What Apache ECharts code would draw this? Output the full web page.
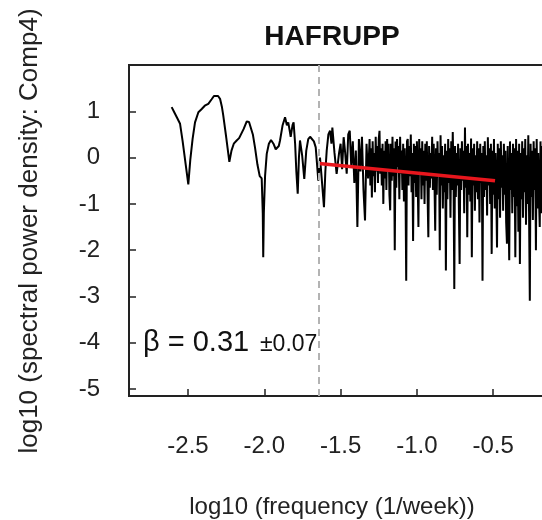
<!DOCTYPE html>
<html><head><meta charset="utf-8">
<script src="https://cdn.jsdelivr.net/npm/echarts@6/dist/echarts.min.js"></script>
<style>html,body{margin:0;padding:0;background:#fff}#c{width:542px;height:520px}</style>
</head><body><div id="c"></div>
<script>
const chartTitle = 'HAFRUPP';
const xAxisTitle = 'log10 (frequency (1/week))';
const yAxisTitle = 'log10 (spectral power density: Comp4)';
const xTicks = [-2.5, -2.0, -1.5, -1.0, -0.5];
const yTicks = [-5, -4, -3, -2, -1, 0, 1];
const betaText = 'β = 0.31';
const betaErr = '±0.07';

// log10 frequency (x) of the spectrum
const freqLog = [
-2.607,-2.590,-2.570,-2.552,-2.535,-2.515,-2.498,-2.485,-2.470,-2.454,
-2.432,-2.410,-2.390,-2.367,-2.345,-2.330,-2.317,-2.303,-2.290,-2.278,
-2.269,-2.250,-2.229,-2.215,-2.200,-2.181,-2.165,-2.155,-2.135,-2.115,
-2.100,-2.089,-2.075,-2.061,-2.045,-2.030,-2.017,-2.010,-2.007,-2.003,
-1.995,-1.984,-1.970,-1.956,-1.940,-1.925,-1.919,-1.905,-1.897,-1.880,
-1.864,-1.852,-1.843,-1.832,-1.827,-1.815,-1.808,-1.798,-1.790,-1.781,
-1.773,-1.766,-1.752,-1.738,-1.725,-1.712,-1.700,-1.689,-1.675,-1.663,
-1.646,-1.635,-1.625,-1.609,-1.600,-1.591,-1.580,-1.569,-1.560,-1.554,
-1.540,-1.526,-1.510,
-1.50,-1.49,-1.48,-1.47,-1.46,-1.45,-1.44,-1.43,-1.42,-1.41,
-1.40,-1.39,-1.38,-1.37,-1.36,-1.35,-1.34,-1.33,-1.32,-1.31,
-1.305,-1.300,-1.295,-1.290,-1.285,-1.280,-1.275,-1.270,-1.265,-1.260,
-1.255,-1.250,-1.245,-1.240,-1.235,-1.230,-1.225,-1.220,-1.215,-1.210,
-1.205,-1.200,-1.195,-1.190,-1.185,-1.180,-1.175,-1.170,-1.165,-1.160,
-1.155,-1.150,-1.145,-1.140,-1.135,-1.130,-1.125,-1.120,-1.115,-1.110,
-1.105,-1.100,-1.095,-1.090,-1.085,-1.080,-1.075,-1.070,-1.065,-1.060,
-1.055,-1.050,-1.045,-1.040,-1.035,-1.030,-1.025,-1.020,-1.015,-1.010,
-1.005,-1.000,-0.995,-0.990,-0.985,-0.980,-0.975,-0.970,-0.965,-0.960,
-0.955,-0.950,-0.945,-0.940,-0.935,-0.930,-0.925,-0.920,-0.915,-0.910,
-0.905,-0.900,
-0.895,-0.890,-0.885,-0.880,-0.875,-0.870,-0.865,-0.860,-0.855,-0.850,
-0.845,-0.840,-0.835,-0.830,-0.825,-0.820,-0.815,-0.810,-0.805,-0.800,
-0.795,-0.790,-0.785,-0.780,-0.775,-0.770,-0.765,-0.760,-0.755,-0.750,
-0.745,-0.740,-0.735,-0.730,-0.725,-0.720,-0.715,-0.710,-0.705,-0.700,
-0.695,-0.690,-0.685,-0.680,-0.675,-0.670,-0.665,-0.660,-0.655,-0.650,
-0.645,-0.640,-0.635,-0.630,-0.625,-0.620,-0.615,-0.610,-0.605,-0.600,
-0.595,-0.590,-0.585,-0.580,-0.575,-0.570,-0.565,-0.560,-0.555,-0.550,
-0.545,-0.540,-0.535,-0.530,-0.525,-0.520,-0.515,-0.510,-0.505,-0.500,
-0.495,-0.490,-0.485,-0.480,-0.475,-0.470,-0.465,-0.460,-0.455,-0.450,
-0.445,-0.440,-0.435,-0.430,-0.425,-0.420,-0.415,-0.410,-0.405,-0.400,
-0.395,-0.390,-0.385,-0.380,-0.375,-0.370,-0.365,-0.360,-0.355,-0.350,
-0.345,-0.340,-0.335,-0.330,-0.325,-0.320,-0.315,-0.310,-0.305,-0.300,
-0.295,-0.290,-0.285,-0.280,-0.275,-0.270,-0.265,-0.260,-0.255,-0.250,
-0.245,-0.240,-0.235,-0.230,-0.225,-0.220,-0.215,-0.210,-0.205,-0.200,
-0.195,-0.190,-0.185,-0.180,-0.175,-0.170,-0.165,-0.160,-0.155,-0.150
];

// log10 spectral power density (y)
const powerLog = [
1.09,0.98,0.85,0.73,0.35,-0.15,-0.58,-0.05,0.40,0.76,
0.98,1.05,1.12,1.16,1.26,1.33,1.35,1.33,1.27,1.10,
0.91,0.45,-0.09,0.15,0.30,0.37,0.42,0.45,0.62,0.78,
0.77,0.73,0.50,0.22,-0.15,-0.40,-0.45,-1.20,-2.15,-1.20,
-0.40,0.08,0.30,0.38,0.30,0.18,0.15,0.25,0.37,0.70,
0.87,0.70,0.76,0.55,0.45,0.70,0.76,0.30,-0.30,-0.78,
0.00,0.37,0.05,-0.46,0.15,0.40,0.45,0.47,0.35,0.22,
-0.50,0.00,-0.40,-1.07,-0.30,0.15,0.50,0.58,0.30,0.65,
0.10,-0.35,0.10,
0.30,-0.25,0.44,0.10,-0.35,0.50,0.58,-0.20,0.35,-0.55,
0.15,-1.50,0.40,-0.30,0.45,-0.70,-1.36,0.30,-0.45,0.40,
-0.60,0.20,-0.86,0.35,-0.40,0.10,-0.75,0.45,-0.30,0.25,
-0.55,0.40,0.58,-0.35,0.20,-0.60,0.30,-1.00,0.15,-0.45,
0.35,-0.70,0.40,-0.25,0.30,-0.80,-1.14,0.30,-0.50,0.45,
-0.40,0.20,-2.00,0.35,-0.65,0.40,-0.20,0.25,-0.90,0.45,
-0.35,0.15,-0.70,0.30,-0.95,0.20,-0.50,-2.66,0.35,0.40,
-0.60,0.25,-0.40,0.50,-0.75,0.10,-1.80,0.30,-0.55,0.25,
-0.85,0.35,-0.45,-1.50,0.40,-0.30,0.20,-0.90,0.35,-0.60,
0.15,-1.00,0.30,-0.50,0.35,-0.80,-1.72,0.25,-0.65,0.10,
-0.45,0.45,
-0.70,0.30,-0.50,-1.58,0.20,-0.80,0.35,-0.40,0.10,-2.00,
0.48,-0.60,0.25,-1.10,0.05,-0.75,0.30,-2.44,0.15,-0.90,
0.40,-0.55,0.20,-1.30,0.35,-0.70,0.55,-0.40,-2.84,0.25,
-0.85,0.10,-0.60,0.30,-1.05,-2.30,0.20,-0.70,0.35,-0.50,
0.15,-1.20,0.65,-0.65,0.25,-1.72,0.30,-0.80,0.10,-0.95,
0.41,-2.15,0.20,-0.60,0.30,-1.15,0.05,-0.75,0.35,-0.90,
0.20,-1.40,0.30,-0.55,0.10,-2.66,0.25,-0.85,0.35,-0.70,
0.05,-1.25,0.44,-0.60,0.20,-1.00,0.30,-2.08,0.15,-0.80,
0.40,-1.10,0.10,-0.70,-1.94,0.30,-0.90,0.20,-1.30,0.35,
-0.65,0.05,-1.15,0.30,-0.80,0.15,-1.40,-1.86,0.25,-0.95,
-2.22,0.35,-0.70,0.10,-1.20,0.30,-0.85,0.20,-2.15,0.40,
-1.05,0.15,-1.60,0.30,-2.30,0.10,-0.90,0.35,-1.30,0.20,
-0.75,0.40,-1.45,0.05,-1.00,0.48,-1.20,-3.09,0.30,-0.85,
0.15,-1.35,0.35,-0.70,0.20,-2.00,0.40,-1.10,0.10,-0.90,
-1.50,0.35,-1.20,0.25,-0.80,0.30,-1.10,0.20,-0.70,0.35
];

// fitted power-law line and the fit cut-off frequency
const fitX = [-1.642, -0.488];
const fitY = [-0.13, -0.50];
const cutoffX = -1.642;

const FF = '"Liberation Sans", Arial, sans-serif';
const chart = echarts.init(document.getElementById('c'), null, {renderer: 'canvas'});

chart.setOption({
  animation: false,
  backgroundColor: '#ffffff',
  grid: {left: 129, top: 65, width: 440.5, height: 331, show: true,
         borderColor: '#222', borderWidth: 2, backgroundColor: 'transparent',
         containLabel: false, outerBoundsMode: 'none'},
  xAxis: {
    type: 'value', min: -2.8866, max: 0,
    axisLine: {show: true, onZero: false, lineStyle: {color: '#222', width: 2}},
    axisTick: {show: true, inside: true, length: 7, customValues: xTicks, lineStyle: {color: '#222', width: 1.5}},
    axisLabel: {show: true, customValues: xTicks, formatter: v => Number(v).toFixed(1),
                margin: 38, fontSize: 24, color: '#222', fontFamily: FF},
    splitLine: {show: false}
  },
  yAxis: {
    type: 'value', min: -5.15, max: 2,
    axisLine: {show: true, onZero: false, lineStyle: {color: '#222', width: 2}},
    axisTick: {show: true, inside: true, length: 7, customValues: yTicks, lineStyle: {color: '#222', width: 1.5}},
    axisLabel: {show: true, customValues: yTicks, formatter: v => String(Math.round(v)),
                margin: 29, fontSize: 24, color: '#222', fontFamily: FF},
    splitLine: {show: false}
  },
  series: [
    {
      type: 'line', data: [], z: 1, silent: true,
      markLine: {symbol: ['none', 'none'], silent: true, animation: false, label: {show: false},
                 lineStyle: {color: '#b3b3b3', type: [7, 5], width: 2},
                 emphasis: {disabled: true},
                 data: [{xAxis: cutoffX}]}
    },
    {
      type: 'line', z: 3, silent: true, symbol: 'none', showSymbol: false,
      data: freqLog.map((x, i) => [x, powerLog[i]]),
      lineStyle: {color: '#000', width: 2}
    },
    {
      type: 'line', z: 4, silent: true, symbol: 'none', showSymbol: false,
      data: fitX.map((x, i) => [x, fitY[i]]),
      lineStyle: {color: '#e8161d', width: 3.5}
    }
  ],
  graphic: [
    {type: 'text', x: 332, y: 37, style: {text: chartTitle, fontSize: 28, fontWeight: 'bold', fontFamily: FF,
      fill: '#111', align: 'center', verticalAlign: 'middle'}},
    {type: 'text', x: 332, y: 507, style: {text: xAxisTitle, fontSize: 24, fontFamily: FF,
      fill: '#222', align: 'center', verticalAlign: 'middle'}},
    {type: 'text', x: 30, y: 231, rotation: Math.PI / 2, style: {text: yAxisTitle, fontSize: 26, fontFamily: FF,
      fill: '#222', align: 'center', verticalAlign: 'middle'}},
    {type: 'text', x: 143, y: 343, style: {text: betaText, fontSize: 29, fontFamily: FF,
      fill: '#111', align: 'left', verticalAlign: 'middle'}},
    {type: 'text', x: 260, y: 345, style: {text: betaErr, fontSize: 23, fontFamily: FF,
      fill: '#111', align: 'left', verticalAlign: 'middle'}}
  ]
});
</script>
</body></html>
